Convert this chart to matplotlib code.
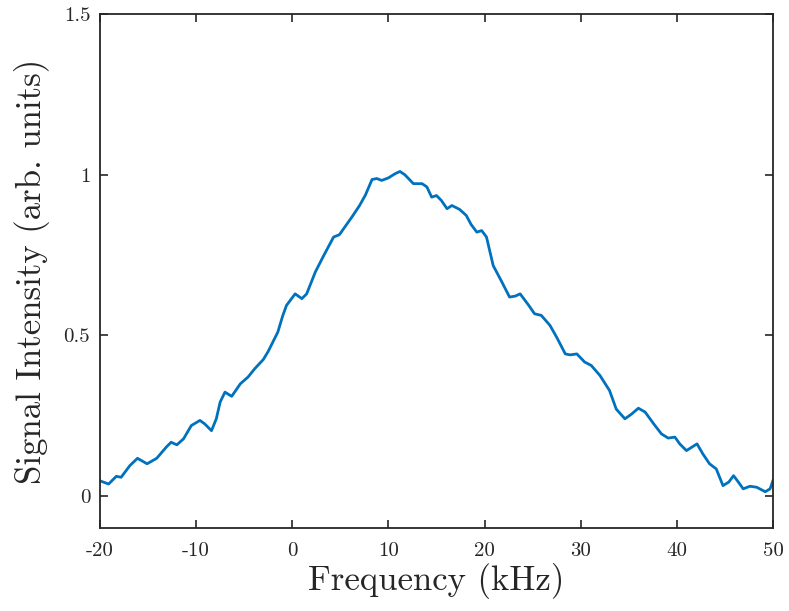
import numpy as np
import matplotlib
matplotlib.use('Agg')
import matplotlib.pyplot as plt

plt.rcParams['font.family'] = ['cmr10', 'DejaVu Serif']
plt.rcParams['axes.unicode_minus'] = False
plt.rcParams['mathtext.fontset'] = 'cm'

# data
freq_khz = [-20.1, -19.1, -18.3, -17.8, -16.9, -16.1, -15.1, -14.1, -13.1, -12.6,
            -12.0, -11.3, -10.5, -9.6, -9.1, -8.4, -7.9, -7.5, -7.0, -6.3,
            -5.4, -4.6, -3.9, -3.0, -2.5, -1.5, -1.0, -0.6, 0.3, 1.0,
            1.5, 2.4, 3.2, 4.3, 4.9, 5.7, 6.2, 7.0, 7.6, 8.3,
            8.8, 9.3, 10.0, 10.7, 11.2, 11.7, 12.6, 13.5, 14.0, 14.5,
            15.0, 15.5, 16.1, 16.6, 17.4, 18.1, 18.6, 19.2, 19.7, 20.2,
            20.9, 21.8, 22.6, 23.2, 23.7, 24.6, 25.2, 25.9, 26.8, 27.5,
            28.4, 28.9, 29.6, 30.4, 31.1, 32.0, 33.0, 33.7, 34.6, 35.3,
            36.0, 36.7, 37.6, 38.4, 39.1, 39.8, 40.3, 41.0, 42.1, 42.7,
            43.4, 44.1, 44.8, 45.4, 45.9, 46.4, 46.9, 47.6, 48.3, 49.2,
            49.7, 50.0]
signal = [0.048, 0.037, 0.061, 0.058, 0.094, 0.117, 0.100, 0.117, 0.152, 0.167,
          0.159, 0.178, 0.219, 0.235, 0.224, 0.203, 0.240, 0.292, 0.323, 0.310,
          0.349, 0.370, 0.396, 0.425, 0.450, 0.510, 0.560, 0.593, 0.629, 0.614,
          0.629, 0.697, 0.744, 0.806, 0.813, 0.847, 0.868, 0.904, 0.936, 0.985,
          0.988, 0.982, 0.990, 1.003, 1.010, 1.000, 0.972, 0.972, 0.962, 0.930,
          0.935, 0.920, 0.894, 0.904, 0.892, 0.873, 0.845, 0.821, 0.826, 0.806,
          0.717, 0.666, 0.619, 0.622, 0.629, 0.593, 0.567, 0.562, 0.531, 0.494,
          0.442, 0.439, 0.442, 0.417, 0.406, 0.375, 0.328, 0.270, 0.240, 0.255,
          0.273, 0.261, 0.224, 0.193, 0.180, 0.183, 0.162, 0.141, 0.162, 0.131,
          0.100, 0.084, 0.032, 0.043, 0.063, 0.043, 0.022, 0.030, 0.027, 0.013,
          0.022, 0.048]

x_ticks = [-20, -10, 0, 10, 20, 30, 40, 50]
x_tick_labels = ['-20', '-10', '0', '10', '20', '30', '40', '50']
y_ticks = [0, 0.5, 1, 1.5]
y_tick_labels = ['0', '0.5', '1', '1.5']

dark = '#262626'

fig = plt.figure(figsize=(7.89, 6.11), dpi=100)
ax = fig.add_axes([0.1267, 0.1358, 0.853, 0.8412])

ax.plot(freq_khz, signal, color='#0072BD', linewidth=2.0)

ax.set_xlim(-20, 50)
ax.set_ylim(-0.1, 1.5)
ax.set_xticks(x_ticks)
ax.set_xticklabels(x_tick_labels)
ax.set_yticks(y_ticks)
ax.set_yticklabels(y_tick_labels)

ax.tick_params(direction='in', length=6, width=1.2, colors=dark,
               labelsize=15, top=True, right=True)
ax.tick_params(axis='x', pad=10)
ax.tick_params(axis='y', pad=7)
for s in ax.spines.values():
    s.set_linewidth(1.3)
    s.set_color(dark)

ax.set_xlabel('Frequency (kHz)', fontsize=25, color=dark, labelpad=2)
ax.set_ylabel('Signal Intensity (arb. units)', fontsize=25, color=dark, labelpad=10)

fig.savefig('out.png', dpi=100)
